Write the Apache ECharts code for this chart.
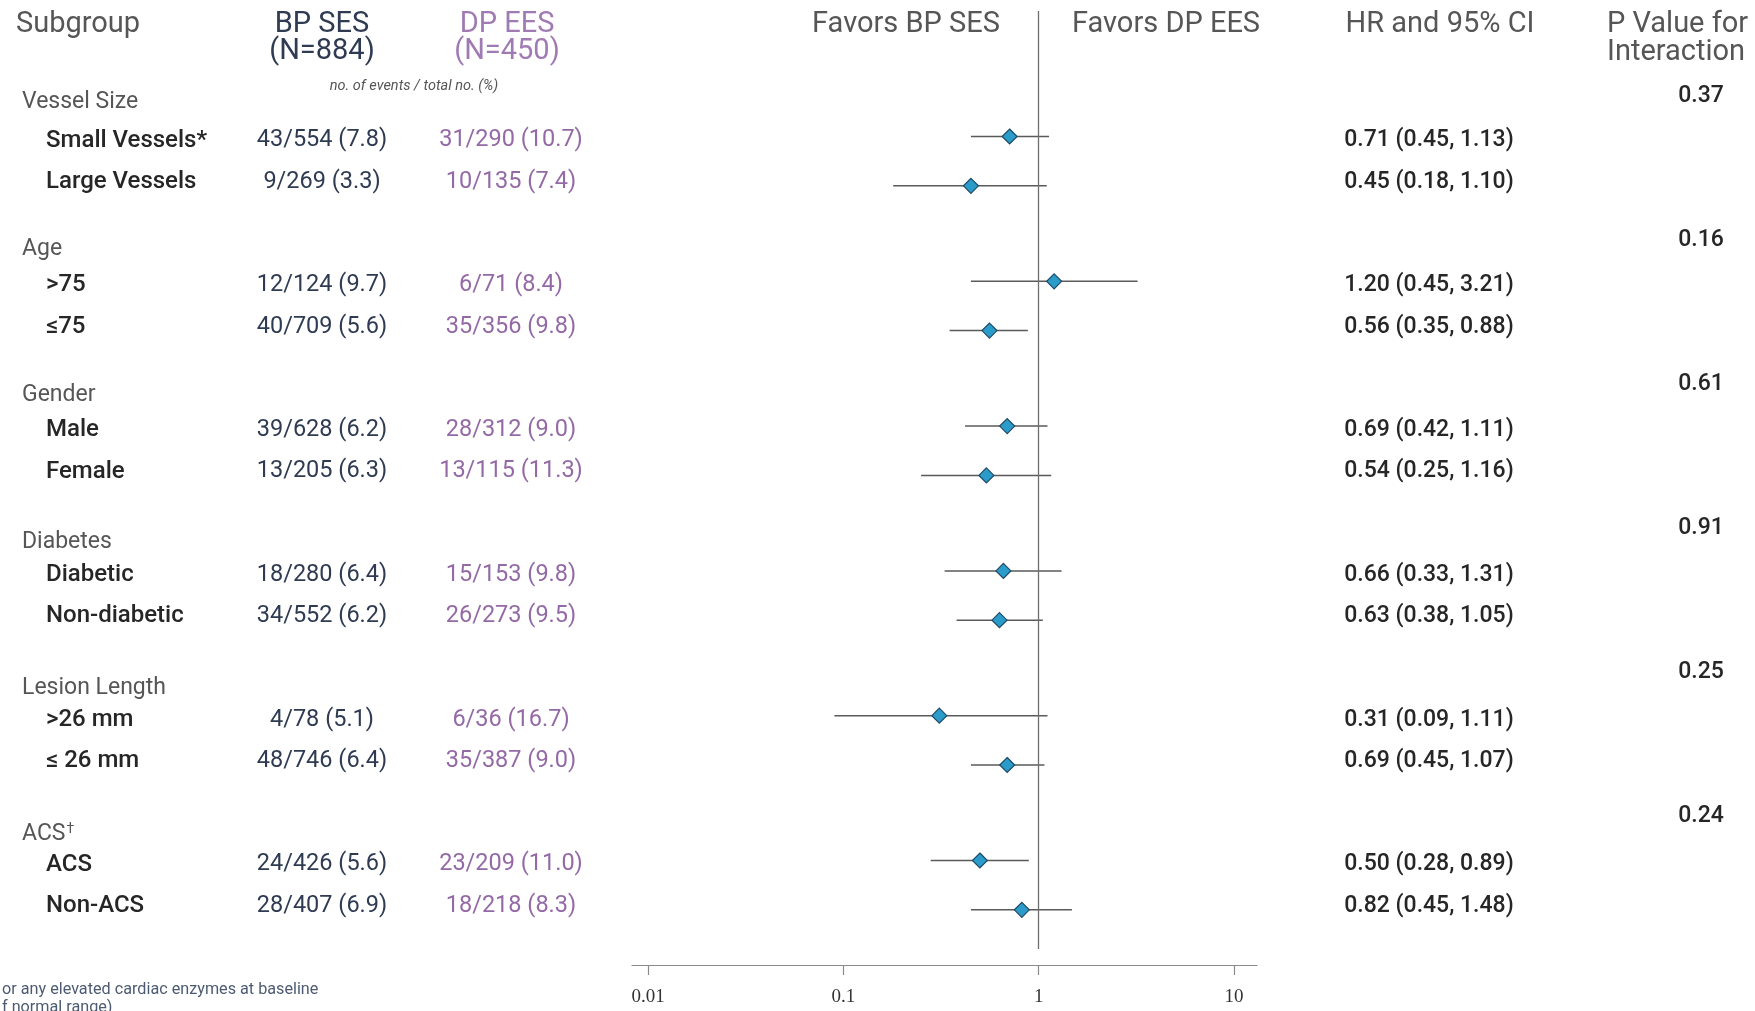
<!DOCTYPE html>
<html><head><meta charset="utf-8">
<script src="https://cdn.jsdelivr.net/npm/echarts@6/dist/echarts.min.js"></script>
<style>html,body{margin:0;padding:0;background:#fff}#c{width:1755px;height:1011px}</style>
</head><body><div id="c"></div>
<script>
// ---------------- data ----------------
const groups = ['Vessel Size', 'Age', 'Gender', 'Diabetes', 'Lesion Length', 'ACS\u2020'];
const subgroups = ['Small Vessels*', 'Large Vessels', '>75', '\u226475', 'Male', 'Female',
  'Diabetic', 'Non-diabetic', '>26 mm', '\u2264 26 mm', 'ACS', 'Non-ACS'];
const bpSes = ['43/554 (7.8)', '9/269 (3.3)', '12/124 (9.7)', '40/709 (5.6)', '39/628 (6.2)', '13/205 (6.3)',
  '18/280 (6.4)', '34/552 (6.2)', '4/78 (5.1)', '48/746 (6.4)', '24/426 (5.6)', '28/407 (6.9)'];
const dpEes = ['31/290 (10.7)', '10/135 (7.4)', '6/71 (8.4)', '35/356 (9.8)', '28/312 (9.0)', '13/115 (11.3)',
  '15/153 (9.8)', '26/273 (9.5)', '6/36 (16.7)', '35/387 (9.0)', '23/209 (11.0)', '18/218 (8.3)'];
const hr = [0.71, 0.45, 1.20, 0.56, 0.69, 0.54, 0.66, 0.63, 0.31, 0.69, 0.50, 0.82];
const ciLow = [0.45, 0.18, 0.45, 0.35, 0.42, 0.25, 0.33, 0.38, 0.09, 0.45, 0.28, 0.45];
const ciHigh = [1.13, 1.10, 3.21, 0.88, 1.11, 1.16, 1.31, 1.05, 1.11, 1.07, 0.89, 1.48];
const pInteraction = ['0.37', '0.16', '0.61', '0.91', '0.25', '0.24'];
const xTicks = [0.01, 0.1, 1, 10];

// ---------------- layout ----------------
const W = 1755, H = 1011, TOP = 11, AXIS_Y = 965;
const Y_SPAN = AXIS_Y - TOP;
// row placement (y units = pixels below TOP)
const groupY = g => 91.6 + 146.4 * g;
const subY = i => 129.6 + 144.8 * Math.floor(i / 2) + 41.4 * (i % 2);
const markY = i => 125.5 + 144.8 * Math.floor(i / 2) + 49.3 * (i % 2);
const pY = g => 84.9 + 144.1 * g;
const COL = { group: 22, sub: 46, bp: 322, dp: 511, hr: 1429, p: 1701 };
const FONT = 'Roboto, "Noto Sans", sans-serif';
const C_NAVY = '#2f3b52', C_PURPLE = '#946aa6', C_GRAY = '#565656', C_DARK = '#262626';

function textSeries(name, x, ys, texts, st) {
  return {
    type: 'custom', name, xAxisIndex: 0, yAxisIndex: 0, silent: true,
    encode: { x: 0, y: 1 },
    data: texts.map((t, i) => [x, ys(i)]),
    renderItem: (params, api) => {
      const p = api.coord([api.value(0), api.value(1)]);
      const base = Object.assign({ fontFamily: FONT, fontSize: 23, fill: C_DARK }, st);
      const raw = texts[params.dataIndex];
      const hasSup = raw.indexOf('\u2020') >= 0;
      return {
        type: 'text', x: p[0], y: p[1],
        style: Object.assign({}, base, {
          text: hasSup ? raw.replace('\u2020', '{sup|\u2020}') : raw,
          align: base.align || 'left', verticalAlign: 'middle',
          rich: hasSup ? { sup: { fontFamily: FONT, fontSize: 14, fill: base.fill,
            verticalAlign: 'top', padding: [0, 0, 10, 1] } } : undefined
        })
      };
    }
  };
}

function hdr(text, x, y, st) {
  return {
    type: 'text', x, y, silent: true,
    style: Object.assign({ text, fontFamily: FONT, fontSize: 29, fill: C_GRAY,
      align: 'center', verticalAlign: 'middle' }, st)
  };
}

const option = {
  animation: false,
  backgroundColor: '#fff',
  grid: [
    { left: 0, right: 0, top: TOP, bottom: H - AXIS_Y },
    { left: 648, right: W - 1234, top: TOP, bottom: H - AXIS_Y },
    { left: 632, right: W - 1257, top: TOP, bottom: H - AXIS_Y }
  ],
  xAxis: [
    { gridIndex: 0, type: 'value', min: 0, max: W, show: false },
    { gridIndex: 1, type: 'log', logBase: 10, min: xTicks[0], max: xTicks[xTicks.length - 1],
      position: 'bottom',
      axisLine: { show: false, onZero: false },
      axisTick: { show: true, length: 10, lineStyle: { color: '#8a8a8a', width: 1.2 } },
      splitLine: { show: false },
      axisLabel: { show: true, margin: 23, fontFamily: '"Liberation Serif", serif', fontSize: 19, color: '#333',
        formatter: v => String(v) } },
    { gridIndex: 2, type: 'value', min: 0, max: 1, position: 'bottom',
      axisLine: { show: true, onZero: false, lineStyle: { color: '#8a8a8a', width: 1.2 } },
      axisTick: { show: false }, axisLabel: { show: false }, splitLine: { show: false } }
  ],
  yAxis: [0, 1, 2].map(g => ({ gridIndex: g, type: 'value', min: 0, max: Y_SPAN, inverse: true, show: false })),
  graphic: [
    hdr('Subgroup', 16, 25, { align: 'left' }),
    hdr('BP SES', COL.bp, 25, { fill: C_NAVY }),
    hdr('(N=884)', COL.bp, 52, { fill: C_NAVY }),
    hdr('DP EES', 507, 25, { fill: '#a07ab2' }),
    hdr('(N=450)', 507, 52, { fill: '#a07ab2' }),
    hdr('no. of events / total no. (%)', 414, 86, { fontSize: 14.5, fontStyle: 'italic', fill: '#555' }),
    hdr('Favors BP SES', 906, 25),
    hdr('Favors DP EES', 1166, 25),
    hdr('HR and 95% CI', 1440, 25),
    hdr('P Value for', 1607, 25, { align: 'left' }),
    hdr('Interaction', 1607, 53, { align: 'left' }),
    hdr('or any elevated cardiac enzymes at baseline', 2, 990, { align: 'left', fontSize: 16.2, fill: '#4d5b72' }),
    hdr('f normal range)', 2, 1008, { align: 'left', fontSize: 16.2, fill: '#4d5b72' })
  ],
  series: [
    textSeries('groups', COL.group, groupY, groups, { fill: C_GRAY }),
    textSeries('subgroups', COL.sub, subY, subgroups, { fontSize: 24, fontWeight: 500, fill: C_DARK }),
    textSeries('bp', COL.bp, subY, bpSes, { fontSize: 23.5, align: 'center', fill: C_NAVY }),
    textSeries('dp', COL.dp, subY, dpEes, { fontSize: 23.5, align: 'center', fill: C_PURPLE }),
    textSeries('hrText', COL.hr, subY,
      hr.map((v, i) => `${v.toFixed(2)} (${ciLow[i].toFixed(2)}, ${ciHigh[i].toFixed(2)})`),
      { align: 'center', fontWeight: 500, fill: C_DARK }),
    textSeries('pText', COL.p, pY, pInteraction,
      { align: 'center', fontWeight: 500, fill: C_DARK }),
    {
      type: 'custom', name: 'ci', xAxisIndex: 1, yAxisIndex: 1, silent: true,
      encode: { x: [0, 1], y: 2 },
      data: hr.map((v, i) => [ciLow[i], ciHigh[i], markY(i)]),
      renderItem: (params, api) => {
        const a = api.coord([api.value(0), api.value(2)]);
        const b = api.coord([api.value(1), api.value(2)]);
        return { type: 'line', shape: { x1: a[0], y1: a[1], x2: b[0], y2: b[1] },
          style: { stroke: '#5a5a5a', lineWidth: 1.5 } };
      },
      z: 2
    },
    {
      type: 'scatter', name: 'HR', xAxisIndex: 1, yAxisIndex: 1, silent: true,
      data: hr.map((v, i) => [v, markY(i)]),
      symbol: 'diamond', symbolSize: [15, 15],
      itemStyle: { color: '#2b9bc9', borderColor: '#1f4a66', borderWidth: 1.2, opacity: 1 },
      z: 3,
      markLine: {
        silent: true, symbol: 'none', label: { show: false },
        lineStyle: { color: '#6f6f6f', width: 1.3, type: 'solid' },
        data: [[{ coord: [1, 0] }, { coord: [1, Y_SPAN - 16] }]]
      }
    }
  ]
};
const chart = echarts.init(document.getElementById('c'), null, { renderer: 'canvas' });
chart.setOption(option);
</script></body></html>
